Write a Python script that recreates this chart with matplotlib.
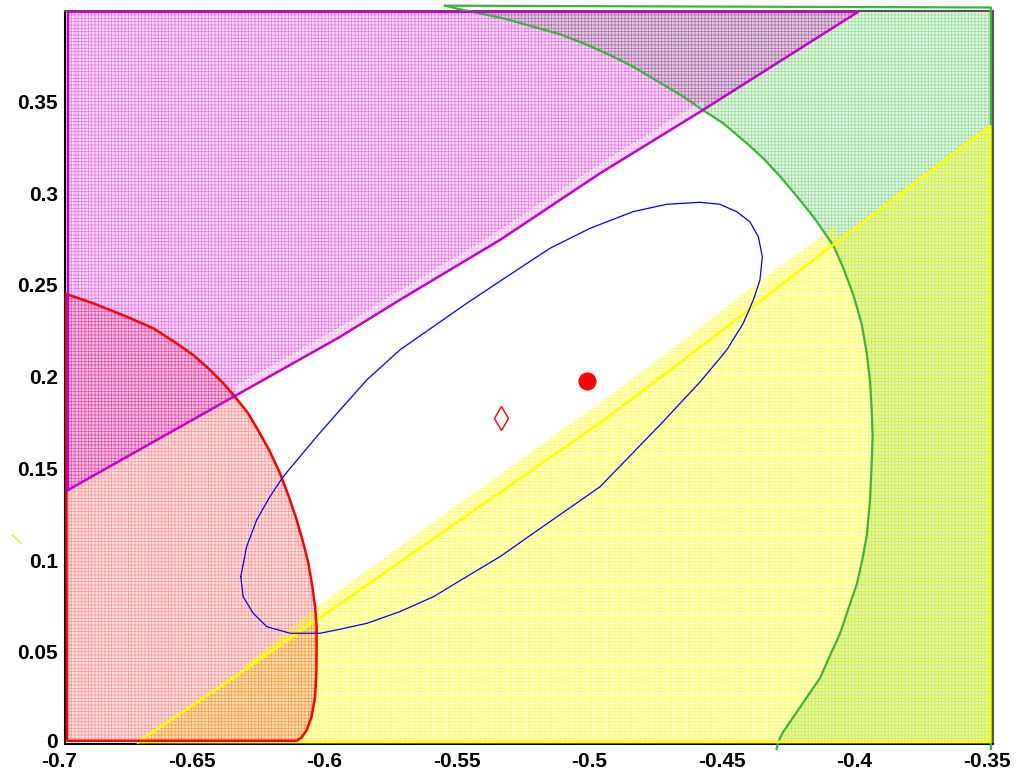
import matplotlib
matplotlib.use('Agg')
import matplotlib.pyplot as plt
from matplotlib.patches import Polygon
from matplotlib.transforms import ScaledTranslation

# --- data ----------------------------------------------------------------
xtick_vals = [-0.7, -0.65, -0.6, -0.55, -0.5, -0.45, -0.4, -0.35]
xtick_labels = ['-0.7', '-0.65', '-0.6', '-0.55', '-0.5', '-0.45', '-0.4', '-0.35']
ytick_vals = [0, 0.05, 0.1, 0.15, 0.2, 0.25, 0.3, 0.35]
ytick_labels = ['0', '0.05', '0.1', '0.15', '0.2', '0.25', '0.3', '0.35']

# magenta region (upper left)
mag_x = [-0.6989, -0.6359, -0.5963, -0.5737, -0.5359, -0.4982, -0.4594, -0.4009, -0.6989]
mag_y = [0.1382, 0.1895, 0.2217, 0.2419, 0.2746, 0.3109, 0.3454, 0.3989, 0.3989]
# lighter strip just above the magenta line
magband_x = [-0.6359, -0.5963, -0.5737, -0.5359, -0.4982, -0.4594]
magband_lo = [0.1895, 0.2217, 0.2419, 0.2746, 0.3109, 0.3454]
magband_hi = [0.1945, 0.2267, 0.2469, 0.2796, 0.3159, 0.3504]

# red region (lower left)
red_x = [-0.6996, -0.6893, -0.6767, -0.6667, -0.6579, -0.6516, -0.6453, -0.6403,
         -0.6359, -0.6309, -0.6265, -0.6227, -0.6189, -0.6158, -0.6126, -0.6101,
         -0.6082, -0.6067, -0.6057, -0.6051, -0.6051, -0.6052, -0.6057, -0.6070,
         -0.6088, -0.6107, -0.6126, -0.6993]
red_y = [0.2451, 0.2400, 0.2327, 0.2264, 0.2182, 0.2118, 0.2037, 0.1964,
         0.1891, 0.1800, 0.1691, 0.1591, 0.1473, 0.1355, 0.1219, 0.1092,
         0.0983, 0.0855, 0.0746, 0.0637, 0.0528, 0.0383, 0.0255, 0.0146,
         0.0074, 0.0034, 0.0015, 0.0015]

# yellow region (lower right)
yel_x = [-0.6725, -0.6378, -0.6051, -0.4982, -0.4681, -0.4103, -0.3511, -0.3511]
yel_y = [0.0008, 0.0346, 0.0673, 0.1748, 0.2075, 0.2718, 0.3367, 0.0008]
# lighter strip above the yellow line
yband_x = [-0.6321, -0.6050, -0.5548, -0.4982, -0.4681, -0.4379, -0.4088]
yband_lo = [0.0403, 0.0673, 0.1179, 0.1748, 0.2075, 0.2411, 0.2729]
yband_hi = [0.0428, 0.0744, 0.1273, 0.1857, 0.2184, 0.2522, 0.2827]

# green region (right): boundary curve, then right-hand corners
grn_cx = [-0.5567, -0.5510, -0.5447, -0.5334, -0.5234, -0.5133, -0.5045, -0.4945,
          -0.4857, -0.4794, -0.4731, -0.4668, -0.4605, -0.4517, -0.4429, -0.4366,
          -0.4303, -0.4240, -0.4178, -0.4102, -0.4065, -0.4027, -0.3995, -0.3976,
          -0.3964, -0.3958, -0.3954, -0.3958, -0.3964, -0.3976, -0.3993, -0.4014,
          -0.4046, -0.4077, -0.4115, -0.4152, -0.4190, -0.4228, -0.4266, -0.4291,
          -0.4310, -0.4316]
grn_cy = [0.4023, 0.4003, 0.3985, 0.3949, 0.3908, 0.3867, 0.3818, 0.3754,
          0.3690, 0.3636, 0.3581, 0.3527, 0.3464, 0.3381, 0.3273, 0.3190,
          0.3092, 0.2984, 0.2873, 0.2715, 0.2594, 0.2447, 0.2286, 0.2126,
          0.1979, 0.1831, 0.1671, 0.1510, 0.1322, 0.1135, 0.1001, 0.0867,
          0.0733, 0.0599, 0.0479, 0.0358, 0.0278, 0.0197, 0.0117, 0.0064,
          0.0010, -0.0030]
grn_corner_x = [-0.3508, -0.3508]
grn_corner_y = [-0.0030, 0.4013]

# blue closed curve
blue_x = [-0.6337, -0.6328, -0.6290, -0.6239, -0.6151, -0.6038, -0.5963, -0.5862,
          -0.5737, -0.5611, -0.5485, -0.5359, -0.5234, -0.5108, -0.4982, -0.4756,
          -0.4605, -0.4504, -0.4442, -0.4404, -0.4379, -0.4370, -0.4385, -0.4417,
          -0.4467, -0.4530, -0.4605, -0.4731, -0.4857, -0.5020, -0.5171, -0.5334,
          -0.5485, -0.5611, -0.5737, -0.5862, -0.5963, -0.6051, -0.6114, -0.6177,
          -0.6227, -0.6277, -0.6315, -0.6337]
blue_y = [0.0910, 0.0800, 0.0710, 0.0637, 0.0601, 0.0601, 0.0623, 0.0655,
          0.0719, 0.0800, 0.0910, 0.1019, 0.1146, 0.1273, 0.1400, 0.1737,
          0.1971, 0.2146, 0.2291, 0.2418, 0.2527, 0.2654, 0.2763, 0.2845,
          0.2900, 0.2940, 0.2951, 0.2940, 0.2900, 0.2809, 0.2700, 0.2545,
          0.2400, 0.2273, 0.2146, 0.1982, 0.1818, 0.1673, 0.1564, 0.1455,
          0.1346, 0.1219, 0.1073, 0.0910]

dot_x, dot_y = [-0.5031], [0.1977]
diam_x, diam_y = [-0.5356], [0.1775]
stray_x = [-0.7199, -0.7167]
stray_y = [0.1137, 0.1092]

# --- plot ----------------------------------------------------------------
plt.rcParams['font.family'] = ['Liberation Sans', 'DejaVu Sans']
plt.rcParams['axes.unicode_minus'] = False
plt.rcParams['hatch.linewidth'] = 0.5

fig = plt.figure(figsize=(10.22, 7.71), dpi=100)
ax = fig.add_axes([65/1022, 27.5/771, 928/1022, 732.7/771])


def region(xs, ys, col, fa, ha, z=1):
    r, g, b, _ = matplotlib.colors.to_rgba(col)
    p = Polygon(list(zip(xs, ys)), closed=True, facecolor=(r, g, b, fa),
                edgecolor=(r, g, b, ha), hatch='+++++', linewidth=0, zorder=z)
    ax.add_patch(p)


region(grn_cx + grn_corner_x, grn_cy + grn_corner_y, '#3cc03c', 0.15, 0.45)
region(yel_x, yel_y, '#ffff00', 0.18, 0.55)
region(red_x, red_y, '#ff2020', 0.13, 0.40)
region(mag_x, mag_y, '#d020d0', 0.18, 0.50)

# light strips along the lines
ax.fill_between(magband_x, magband_lo, magband_hi, color='white', alpha=0.45, lw=0, zorder=2)
ax.plot(magband_x, magband_hi, color='white', lw=1.0, ls=':', zorder=2)
ax.fill_between(yband_x, yband_lo, yband_hi, facecolor=(1, 1, 0, 0.2),
                edgecolor=(1, 1, 0, 0.5), hatch='+++++', lw=0, zorder=2)

# outlines
ax.plot(grn_cx, grn_cy, color='#3cb43c', lw=1.6, zorder=3, clip_on=False)
ax.plot(grn_cx[:1] + grn_corner_x[::-1], grn_cy[:1] + grn_corner_y[::-1],
        color='#3cb43c', lw=1.6, zorder=3, clip_on=False)
ax.plot(yel_x + yel_x[:1], yel_y + yel_y[:1], color='#ffff00', lw=2.0, zorder=3)
ax.plot(red_x + red_x[:1], red_y + red_y[:1], color='#ff0000', lw=1.8, zorder=3)
ax.plot(mag_x + mag_x[:1], mag_y + mag_y[:1], color='#c800c8', lw=1.8, zorder=3)

ax.plot(blue_x, blue_y, color='#0000ff', lw=0.9, zorder=4)
ax.plot(dot_x, dot_y, 'o', color='#ff0000', ms=12, zorder=5)
ax.plot(diam_x, diam_y, 'd', mfc='none', mec='#ff0000', ms=12, mew=1.0, zorder=5)
ax.plot(stray_x, stray_y, color='#e8e800', lw=1.0, clip_on=False)

ax.set_xlim(-0.7, -0.35)
ax.set_ylim(0, 0.3995)
ax.set_xticks(xtick_vals)
ax.set_xticklabels(xtick_labels)
ax.set_yticks(ytick_vals)
ax.set_yticklabels(ytick_labels)
ax.tick_params(length=0, labelsize=15)
ax.tick_params(axis='x', pad=6.3)
ax.tick_params(axis='y', pad=5)
for lab in ax.get_xticklabels() + ax.get_yticklabels():
    lab.set_fontweight('bold')

for s in ['left', 'bottom']:
    ax.spines[s].set_color('black')
    ax.spines[s].set_linewidth(1.5)
for s in ['top', 'right']:
    ax.spines[s].set_color('#555555')
    ax.spines[s].set_linewidth(1.5)

fig.canvas.draw()
shift = ScaledTranslation(-0.06, 0, fig.dpi_scale_trans)
for t in ax.xaxis.get_major_ticks():
    t.label1.set_transform(t.label1.get_transform() + shift)
# lift the "0" label a touch so it clears "-0.7"
t0 = ax.yaxis.get_major_ticks()[0]
t0.label1.set_transform(t0.label1.get_transform() + ScaledTranslation(0, 0.035, fig.dpi_scale_trans))

plt.savefig('out.png', dpi=100)
